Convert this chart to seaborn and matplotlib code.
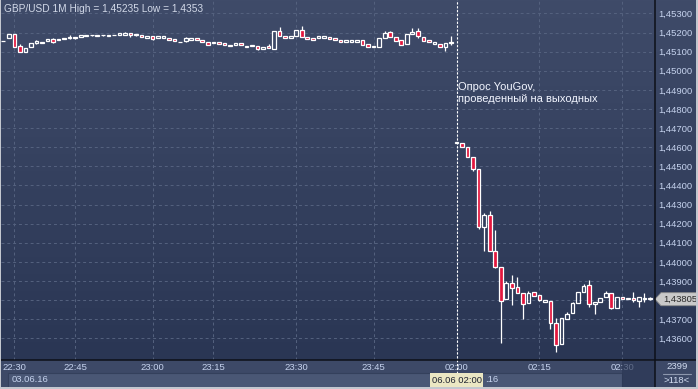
import numpy as np
import pandas as pd
import matplotlib
matplotlib.use("Agg")
import matplotlib.pyplot as plt
import seaborn as sns
from matplotlib.patches import Rectangle, Polygon
from matplotlib.lines import Line2D
from matplotlib.colors import LinearSegmentedColormap
from matplotlib.transforms import Affine2D, blended_transform_factory

# ---------------- data (GBP/USD, 1-minute candles) ----------------
open_ = [1.45155, 1.45172, 1.45190, 1.45131, 1.45099, 1.45125, 1.45146, 1.45143, 1.45157, 1.45164,
         1.45160, 1.45166, 1.45171, 1.45174, 1.45178, 1.45184, 1.45185, 1.45184, 1.45185, 1.45184,
         1.45186, 1.45187, 1.45188, 1.45197, 1.45190, 1.45188, 1.45169, 1.45181, 1.45172, 1.45172,
         1.45172, 1.45164, 1.45148, 1.45157, 1.45160, 1.45169, 1.45160, 1.45150, 1.45143, 1.45148,
         1.45143, 1.45131, 1.45133, 1.45143, 1.45125, 1.45127, 1.45127, 1.45115, 1.45129, 1.45113,
         1.45207, 1.45183, 1.45172, 1.45183, 1.45213, 1.45178, 1.45172, 1.45171, 1.45172, 1.45174,
         1.45169, 1.45159, 1.45151, 1.45151, 1.45151, 1.45159, 1.45138, 1.45124, 1.45125, 1.45172,
         1.45201, 1.45178, 1.45160, 1.45138, 1.45193, 1.45207, 1.45178, 1.45159, 1.45138, 1.45138,
         1.45122, 1.45145, 1.44620, 1.44620, 1.44599, 1.44547, 1.44484, 1.44181, 1.44245, 1.44058,
         1.43975, 1.43804, 1.43888, 1.43867, 1.43836, 1.43783, 1.43841, 1.43827, 1.43792, 1.43795,
         1.43679, 1.43569, 1.43701, 1.43731, 1.43786, 1.43844, 1.43879, 1.43780, 1.43792, 1.43815,
         1.43836, 1.43760, 1.43815, 1.43804, 1.43809, 1.43797, 1.43804, 1.43809]
high = [1.45157, 1.45190, 1.45190, 1.45138, 1.45117, 1.45143, 1.45160, 1.45151, 1.45166, 1.45171,
        1.45166, 1.45172, 1.45188, 1.45174, 1.45187, 1.45186, 1.45186, 1.45186, 1.45186, 1.45186,
        1.45188, 1.45199, 1.45201, 1.45197, 1.45194, 1.45188, 1.45181, 1.45181, 1.45181, 1.45181,
        1.45172, 1.45164, 1.45152, 1.45178, 1.45169, 1.45169, 1.45160, 1.45150, 1.45150, 1.45148,
        1.45143, 1.45136, 1.45143, 1.45143, 1.45131, 1.45136, 1.45127, 1.45124, 1.45138, 1.45207,
        1.45227, 1.45183, 1.45183, 1.45213, 1.45235, 1.45178, 1.45172, 1.45180, 1.45180, 1.45174,
        1.45169, 1.45159, 1.45159, 1.45159, 1.45159, 1.45159, 1.45138, 1.45129, 1.45169, 1.45207,
        1.45207, 1.45178, 1.45160, 1.45190, 1.45225, 1.45225, 1.45178, 1.45159, 1.45148, 1.45138,
        1.45143, 1.45183, 1.44628, 1.44620, 1.44599, 1.44547, 1.44484, 1.44257, 1.44266, 1.44167,
        1.43975, 1.43902, 1.43931, 1.43922, 1.43836, 1.43848, 1.43841, 1.43827, 1.43800, 1.43795,
        1.43705, 1.43705, 1.43736, 1.43792, 1.43841, 1.43883, 1.43905, 1.43792, 1.43813, 1.43848,
        1.43836, 1.43815, 1.43815, 1.43809, 1.43841, 1.43815, 1.43836, 1.43815]
low = [1.45153, 1.45172, 1.45125, 1.45096, 1.45099, 1.45125, 1.45139, 1.45143, 1.45157, 1.45146,
       1.45160, 1.45166, 1.45164, 1.45164, 1.45178, 1.45184, 1.45184, 1.45184, 1.45184, 1.45184,
       1.45186, 1.45187, 1.45188, 1.45178, 1.45183, 1.45174, 1.45169, 1.45162, 1.45172, 1.45172,
       1.45160, 1.45155, 1.45148, 1.45151, 1.45160, 1.45160, 1.45151, 1.45136, 1.45143, 1.45139,
       1.45134, 1.45131, 1.45133, 1.45133, 1.45125, 1.45127, 1.45108, 1.45115, 1.45117, 1.45113,
       1.45183, 1.45169, 1.45172, 1.45183, 1.45178, 1.45166, 1.45159, 1.45171, 1.45172, 1.45167,
       1.45159, 1.45148, 1.45151, 1.45151, 1.45151, 1.45134, 1.45125, 1.45124, 1.45125, 1.45172,
       1.45178, 1.45157, 1.45134, 1.45138, 1.45190, 1.45172, 1.45155, 1.45148, 1.45138, 1.45122,
       1.45104, 1.45134, 1.44620, 1.44599, 1.44547, 1.44477, 1.44172, 1.44058, 1.44058, 1.43966,
       1.43577, 1.43804, 1.43774, 1.43836, 1.43703, 1.43783, 1.43821, 1.43795, 1.43792, 1.43649,
       1.43530, 1.43569, 1.43701, 1.43731, 1.43786, 1.43844, 1.43766, 1.43726, 1.43792, 1.43815,
       1.43752, 1.43760, 1.43804, 1.43804, 1.43792, 1.43766, 1.43792, 1.43801]
close = [1.45155, 1.45190, 1.45125, 1.45096, 1.45117, 1.45143, 1.45154, 1.45151, 1.45166, 1.45151,
         1.45166, 1.45172, 1.45178, 1.45169, 1.45187, 1.45186, 1.45185, 1.45186, 1.45185, 1.45186,
         1.45188, 1.45199, 1.45197, 1.45188, 1.45189, 1.45174, 1.45181, 1.45166, 1.45181, 1.45181,
         1.45160, 1.45155, 1.45152, 1.45169, 1.45169, 1.45160, 1.45151, 1.45136, 1.45150, 1.45139,
         1.45134, 1.45136, 1.45143, 1.45133, 1.45131, 1.45136, 1.45113, 1.45124, 1.45117, 1.45207,
         1.45183, 1.45169, 1.45183, 1.45213, 1.45178, 1.45166, 1.45162, 1.45180, 1.45180, 1.45167,
         1.45159, 1.45148, 1.45159, 1.45159, 1.45159, 1.45134, 1.45125, 1.45129, 1.45169, 1.45195,
         1.45178, 1.45157, 1.45134, 1.45190, 1.45204, 1.45180, 1.45155, 1.45148, 1.45148, 1.45122,
         1.45143, 1.45151, 1.44628, 1.44599, 1.44547, 1.44484, 1.44181, 1.44245, 1.44058, 1.43975,
         1.43797, 1.43888, 1.43862, 1.43836, 1.43780, 1.43836, 1.43821, 1.43799, 1.43800, 1.43679,
         1.43565, 1.43705, 1.43726, 1.43783, 1.43841, 1.43874, 1.43780, 1.43792, 1.43813, 1.43836,
         1.43757, 1.43815, 1.43804, 1.43809, 1.43801, 1.43815, 1.43813, 1.43805]

time_tick_pos = [2, 13, 27, 38, 53, 67, 82, 97, 112]
time_tick_labels = ["22:30", "22:45", "23:00", "23:15", "23:30", "23:45", "02:00", "02:15", "02:30"]
price_ticks = [1.436, 1.437, 1.438, 1.439, 1.440, 1.441, 1.442, 1.443, 1.444,
               1.445, 1.446, 1.447, 1.448, 1.449, 1.450, 1.451, 1.452, 1.453]
# the 1,43800 label is hidden behind the last-price marker in the reference
price_tick_labels = ["1,43600", "1,43700", "", "1,43900", "1,44000", "1,44100",
                     "1,44200", "1,44300", "1,44400", "1,44500", "1,44600", "1,44700",
                     "1,44800", "1,44900", "1,45000", "1,45100", "1,45200", "1,45300"]
last_price = 1.43805
last_price_label = "1,43805"
event_index = 82
title = "GBP/USD 1M High = 1,45235 Low = 1,4353"
annotation = "Опрос YouGov,\nпроведенный на выходных"

df = pd.DataFrame({"open": open_, "high": high, "low": low, "close": close})
df["x"] = np.arange(len(df))

# ---------------- style ----------------
sns.set_style("dark")
plt.rcParams["font.family"] = ["Liberation Sans", "DejaVu Sans"]

W, H = 698, 389
fig = plt.figure(figsize=(W / 100, H / 100), dpi=100)
fig.patch.set_facecolor("#3c4866")
px = Affine2D().scale(1 / W, -1 / H).translate(0, 1) + fig.transFigure

# background axes (gradient + bottom strip)
bg = fig.add_axes([0, 0, 1, 1], zorder=0)
grad = np.linspace(0, 1, 256).reshape(-1, 1)
cmap = LinearSegmentedColormap.from_list("bg", ["#3f4b69", "#2a3654"])
bg.imshow(grad, cmap=cmap, extent=[0, W, 360, 0], aspect="auto", interpolation="bilinear")
bg.add_patch(Rectangle((0, 360), W, 29, facecolor="#3d4967", edgecolor="none"))
bg.add_patch(Rectangle((7.5, 372.5), 614, 15, facecolor="#4a5775", edgecolor="#34405c", linewidth=0.8))
bg.set_xlim(0, W)
bg.set_ylim(H, 0)
bg.axis("off")

# main price axes
ax = fig.add_axes([1 / W, 29 / H, 654 / W, 360 / H], zorder=2)
ax.set_facecolor("none")
ax.set_xlim(-0.42, 117.91)
ax.set_ylim(1.43487, 1.45370)

red = "#e3173e"
up = df[df["close"] >= df["open"]]
dn = df[df["close"] < df["open"]]
body_lo = df[["open", "close"]].min(axis=1)
body_hi = df[["open", "close"]].max(axis=1)

ax.vlines(df["x"], body_hi, df["high"], color="white", linewidth=0.9, zorder=3)
ax.vlines(df["x"], df["low"], body_lo, color="white", linewidth=0.9, zorder=3)
ax.bar(up["x"], up["close"] - up["open"], bottom=up["open"], width=0.66,
       facecolor="none", edgecolor="white", linewidth=0.9, zorder=4)
ax.bar(dn["x"], dn["open"] - dn["close"], bottom=dn["close"], width=0.66,
       facecolor=red, edgecolor="white", linewidth=0.9, zorder=4)

ax.set_xticks(time_tick_pos)
ax.set_xticklabels(time_tick_labels)
ax.yaxis.tick_right()
ax.set_yticks(price_ticks)
ax.set_yticklabels(price_tick_labels)
ax.tick_params(axis="x", length=0, pad=2.3, labelsize=6.8, labelcolor="#c6d3ee")
ax.tick_params(axis="y", length=0, pad=2.6, labelsize=6.8, labelcolor="#c6d3ee")
ax.grid(True, color="#55627f", linestyle=(0, (3, 3)), linewidth=0.7)
ax.set_axisbelow(True)
for s in ax.spines.values():
    s.set_visible(False)

# event line and annotation
ax.axvline(event_index, ymin=-0.08, ymax=1, color="white", linewidth=0.8,
           linestyle=(0, (2, 1.5)), clip_on=False, zorder=5)
ax.text(event_index + 0.3, 1.44883, annotation, color="#f2f5ff", fontsize=8.0,
        ha="left", va="center", linespacing=1.3, zorder=6)

# last price marker
bt = blended_transform_factory(ax.transAxes, ax.transData)
hh = 0.00034
xr = 1 + 6 / 654
poly = Polygon([(1.0, last_price), (xr, last_price + hh), (1.07, last_price + hh),
                (1.07, last_price - hh), (xr, last_price - hh)], closed=True,
               transform=bt, facecolor="#c9c9c9", edgecolor="#8c8c8c", linewidth=0.6,
               clip_on=False, zorder=6)
ax.add_patch(poly)
ax.text(1 + 8 / 654, last_price, last_price_label, transform=bt, color="#2a2a2a",
        fontsize=6.8, ha="left", va="center", zorder=7, clip_on=False)

# frame lines
fig.add_artist(Line2D([0, W], [360, 360], transform=px, color="#0d1018", linewidth=1.1, zorder=5))
fig.add_artist(Line2D([655, 655], [0, H], transform=px, color="#0d1018", linewidth=1.1, zorder=5))

# title
fig.text(4, 8.5, title, transform=px, color="#d2d9e8", fontsize=7.3, ha="left", va="center", zorder=6)

# bottom strip texts
fig.text(12, 380, "03.06.16", transform=px, color="#c6d3ee", fontsize=6.8, ha="left", va="center", zorder=3)
fig.text(485, 380, ".16", transform=px, color="#c6d3ee", fontsize=6.8, ha="left", va="center", zorder=3)
fig.add_artist(Rectangle((621.5, 361.5), 33, 26, transform=px, facecolor="#2a3653",
                         alpha=0.65, edgecolor="none", zorder=4))
fig.add_artist(Rectangle((430, 373), 53, 15, transform=px, facecolor="#ebe7c3",
                         edgecolor="none", zorder=6))
fig.text(456.5, 380.5, "06.06 02:00", transform=px, color="#1e2230", fontsize=6.8,
         ha="center", va="center", zorder=7)

# bottom-right cell
fig.text(677, 367, "2399", transform=px, color="#d2dcf0", fontsize=6.8, ha="center", va="center", zorder=6)
fig.add_artist(Line2D([663, 691], [374, 374], transform=px, color="#8d97ad", linewidth=0.8, zorder=6))
fig.text(677, 381, ">118<", transform=px, color="#d2dcf0", fontsize=6.8, ha="center", va="center", zorder=6)

# outer light border
fig.add_artist(Rectangle((0, 387), W, 2, transform=px, facecolor="#c3c7cf", edgecolor="none", zorder=8))
fig.add_artist(Rectangle((696, 0), 2, H, transform=px, facecolor="#c3c7cf", edgecolor="none", zorder=8))
fig.add_artist(Rectangle((0, 0), 1, H, transform=px, facecolor="#c3c7cf", edgecolor="none", zorder=8))

fig.savefig("out.png", dpi=100, facecolor=fig.get_facecolor())
